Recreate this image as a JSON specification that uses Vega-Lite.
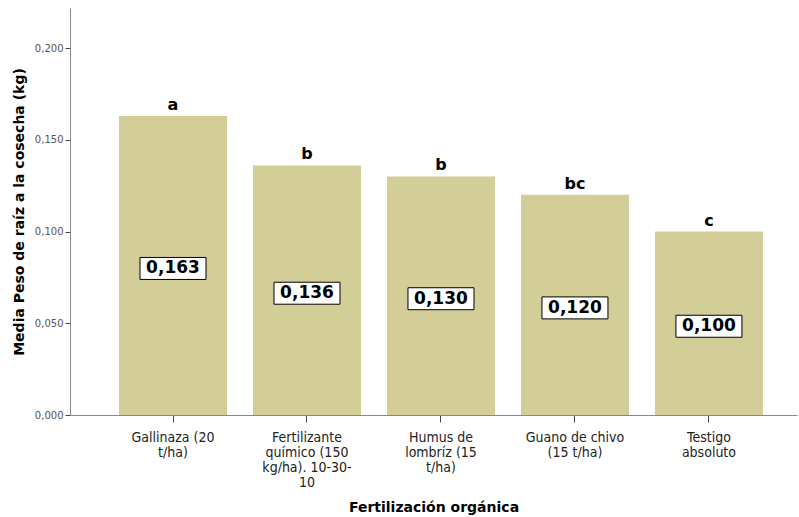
{
  "$schema": "https://vega.github.io/schema/vega-lite/v6.json",
  "width": 727,
  "height": 407,
  "autosize": {"type": "none"},
  "padding": {"left": 70, "top": 8, "right": 2, "bottom": 102},
  "background": "white",
  "config": {"view": {"stroke": null}, "font": "DejaVu Sans"},
  "data": {
    "values": [
      {"trat": "Gallinaza (20 t/ha)", "peso": 0.163, "etiqueta": "0,163", "letra": "a"},
      {"trat": "Fertilizante químico (150 kg/ha). 10-30-10", "peso": 0.136, "etiqueta": "0,136", "letra": "b"},
      {"trat": "Humus de lombríz (15 t/ha)", "peso": 0.130, "etiqueta": "0,130", "letra": "b"},
      {"trat": "Guano de chivo (15 t/ha)", "peso": 0.120, "etiqueta": "0,120", "letra": "bc"},
      {"trat": "Testigo absoluto", "peso": 0.100, "etiqueta": "0,100", "letra": "c"}
    ]
  },
  "encoding": {
    "x": {
      "field": "trat",
      "type": "nominal",
      "sort": null,
      "scale": {"paddingInner": 0.194, "paddingOuter": 0.31, "align": 0.59},
      "axis": {
        "title": "Fertilización orgánica",
        "titleFont": "DejaVu Sans",
        "titleFontSize": 14,
        "titleFontWeight": "bold",
        "titleColor": "#000000",
        "titlePadding": 11,
        "labelAngle": 0,
        "labelFont": "DejaVu Sans Condensed",
        "labelFontSize": 14,
        "labelColor": "#222222",
        "labelLineHeight": 15,
        "labelPadding": 8,
        "labelExpr": "datum.value == 'Gallinaza (20 t/ha)' ? ['Gallinaza (20', 't/ha)'] : datum.value == 'Fertilizante químico (150 kg/ha). 10-30-10' ? ['Fertilizante', 'químico (150', 'kg/ha). 10-30-', '10'] : datum.value == 'Humus de lombríz (15 t/ha)' ? ['Humus de', 'lombríz (15', 't/ha)'] : datum.value == 'Guano de chivo (15 t/ha)' ? ['Guano de chivo', '(15 t/ha)'] : ['Testigo', 'absoluto']",
        "domainColor": "#888888",
        "tickColor": "#444444",
        "tickSize": 7,
        "grid": false
      }
    }
  },
  "layer": [
    {
      "mark": {"type": "bar", "color": "#d3cd97"},
      "encoding": {
        "y": {
          "field": "peso",
          "type": "quantitative",
          "scale": {"domain": [0, 0.2218], "nice": false},
          "axis": {
            "title": "Media Peso de raíz a la cosecha (kg)",
            "titleFont": "DejaVu Sans",
            "titleFontSize": 14,
            "titleFontWeight": "bold",
            "titleColor": "#000000",
            "titlePadding": 8,
            "values": [0, 0.05, 0.1, 0.15, 0.2],
            "labelExpr": "replace(format(datum.value, '.3f'), '.', ',')",
            "labelFont": "DejaVu Sans",
            "labelFontSize": 10,
            "labelColor": "#555555",
            "domainColor": "#888888",
            "tickColor": "#444444",
            "tickSize": 5,
            "grid": false
          }
        }
      }
    },
    {
      "mark": {"type": "text", "font": "DejaVu Sans", "fontWeight": "bold", "fontSize": 16, "baseline": "bottom", "dy": -3, "color": "#000000"},
      "encoding": {
        "y": {"field": "peso", "type": "quantitative"},
        "text": {"field": "letra"}
      }
    },
    {
      "transform": [{"calculate": "datum.peso / 2", "as": "mitad"}],
      "mark": {"type": "point", "shape": "M-1,-0.333L1,-0.333L1,0.333L-1,0.333Z", "size": 4356, "filled": true, "fill": "white", "stroke": "#000000", "strokeWidth": 1, "opacity": 1, "yOffset": 3},
      "encoding": {
        "y": {"field": "mitad", "type": "quantitative"}
      }
    },
    {
      "transform": [{"calculate": "datum.peso / 2", "as": "mitad"}],
      "mark": {"type": "text", "font": "DejaVu Sans", "fontWeight": "bold", "fontSize": 17, "baseline": "middle", "color": "#000000", "dy": 3},
      "encoding": {
        "y": {"field": "mitad", "type": "quantitative"},
        "text": {"field": "etiqueta"}
      }
    }
  ]
}
